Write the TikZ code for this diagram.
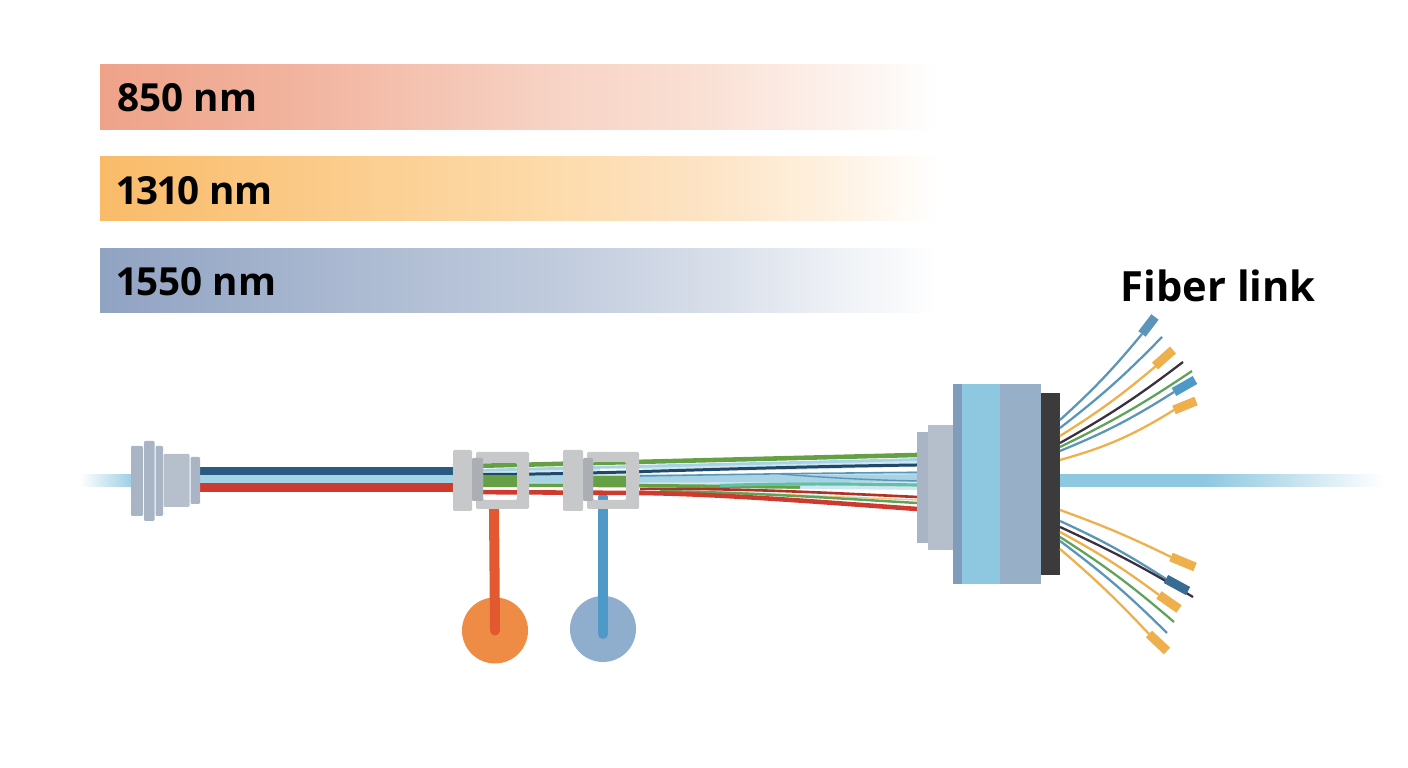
\documentclass[tikz,border=0pt]{standalone}
\usepackage{fontspec}
\setmainfont[Numbers=Proportional]{Open Sans}
\usepackage{tikz}

\definecolor{barred}{HTML}{EEA389}
\definecolor{barredb}{HTML}{F2B5A0}
\definecolor{barredc}{HTML}{F7D3C5}
\definecolor{barredd}{HTML}{FADFD3}
\definecolor{barrede}{HTML}{FCF0EA}
\definecolor{baramber}{HTML}{F9BB68}
\definecolor{baramberb}{HTML}{FBCA88}
\definecolor{baramberc}{HTML}{FDDBAB}
\definecolor{baramberd}{HTML}{FDE3C3}
\definecolor{barambere}{HTML}{FEF1E0}
\definecolor{barblue}{HTML}{90A3C2}
\definecolor{barblueb}{HTML}{A7B6CF}
\definecolor{barbluec}{HTML}{C0CBDD}
\definecolor{barblued}{HTML}{D5DCE8}
\definecolor{barbluee}{HTML}{EDF0F5}
\definecolor{beam}{HTML}{8EC7E0}
\definecolor{steel}{HTML}{A9B5C5}
\definecolor{steellight}{HTML}{B5C0CC}
\definecolor{clipgrey}{HTML}{C6C8CA}
\definecolor{clipdark}{HTML}{ABAFB3}
\definecolor{navy}{HTML}{2A5A82}
\definecolor{paleblue}{HTML}{A6D3E6}
\definecolor{wirered}{HTML}{CF3A2E}
\definecolor{wiregreen}{HTML}{65A044}
\definecolor{teal}{HTML}{62BFA8}
\definecolor{fibblue}{HTML}{5B96B8}
\definecolor{fibamber}{HTML}{EDB04C}
\definecolor{fibgreen}{HTML}{5FA35A}
\definecolor{fibdark}{HTML}{3A3040}
\definecolor{portorange}{HTML}{EE8C46}
\definecolor{portblue}{HTML}{8FADCD}
\definecolor{stemred}{HTML}{E2582F}
\definecolor{stemblue}{HTML}{4F99C9}
\definecolor{ringedge}{HTML}{7F9DBB}
\definecolor{ringgrey}{HTML}{98AFC8}

\pgfdeclarehorizontalshading{fadered}{100bp}{color(0bp)=(barred); color(25bp)=(barred);
    color(37.5bp)=(barredb); color(52bp)=(barredc); color(60.5bp)=(barredd); color(68.5bp)=(barrede); color(75bp)=(white); color(100bp)=(white)}
\pgfdeclarehorizontalshading{fadeamber}{100bp}{color(0bp)=(baramber); color(25bp)=(baramber);
    color(37.5bp)=(baramberb); color(52bp)=(baramberc); color(60.5bp)=(baramberd); color(68.5bp)=(barambere); color(75bp)=(white); color(100bp)=(white)}
\pgfdeclarehorizontalshading{fadeblue}{100bp}{color(0bp)=(barblue); color(25bp)=(barblue);
    color(37.5bp)=(barblueb); color(52bp)=(barbluec); color(60.5bp)=(barblued); color(68.5bp)=(barbluee); color(75bp)=(white); color(100bp)=(white)}
\pgfdeclarehorizontalshading{fadebeam}{100bp}{color(0bp)=(beam); color(47bp)=(beam);
    color(60bp)=(beam!55); color(72bp)=(beam!10); color(75bp)=(white); color(100bp)=(white)}

\tikzset{
    barlabel/.style={anchor=base west, inner sep=0pt, font=\fontsize{11}{14}\selectfont\bfseries},
    titlelabel/.style={anchor=base west, inner sep=0pt, font=\fontsize{11.85}{14}\selectfont\bfseries},
    steelpart/.style={fill=steel, rounded corners=0.3pt},
    clipblock/.style={fill=clipgrey, rounded corners=0.4pt},
    clipinner/.style={fill=clipdark, rounded corners=0.3pt},
    fiber/.style={line width=0.65pt},
    tipend/.style={line width=2.6pt},
    port/.style={circle, minimum size=0.66cm, inner sep=0pt},
    stem/.style={line width=2.85pt, line cap=round},
}

\begin{document}
\begin{tikzpicture}[x=0.01cm,y=-0.01cm]
    \useasboundingbox (0,0) rectangle (1408,768);

    % draws wavelength bars
    \shade[shading=fadered] (100,65) rectangle (940,130);
    \shade[shading=fadeamber] (100,157) rectangle (940,221);
    \shade[shading=fadeblue] (100,249) rectangle (940,313);
    \node[barlabel] (nm850) at (117,112) {850 nm};
    \node[barlabel] (nm1310) at (117,205) {1310 nm};
    \node[barlabel] (nm1550) at (117,296) {1550 nm};
    \node[titlelabel] (fiberlink) at (1120,302) {Fiber link};

    % draws light beams
    \shade[left color=white, right color=beam!85] (80,475) rectangle (131,487);
    \shade[shading=fadebeam] (1060,475) rectangle (1385,487);

    % draws wires up to the first clip
    \fill[navy] (200,467.5) rectangle (455,475);
    \fill[paleblue] (200,475) rectangle (455,483.5);
    \fill[wirered] (200,483.5) rectangle (455,492);

    % draws left connector
    \fill[steelpart] (131,446) rectangle (143,516);
    \fill[steelpart] (155.5,446) rectangle (163,516);
    \fill[steelpart] (144,441) rectangle (154.5,521);
    \fill[steelpart, fill=steellight] (163.5,454) rectangle (189.5,507);
    \fill[steelpart] (190.5,457) rectangle (200,504);

    % draws tap ports
    \node[port, fill=portorange] (redport) at (495,630.5) {};
    \node[port, fill=portblue] (blueport) at (603,629) {};
    \draw[stem, draw=stemred] (494,509) -- (redport.center);
    \draw[stem, draw=stemblue] (603,497) -- ([yshift=-0.05cm]blueport.center);

    % draws bundle of wires
    \fill[paleblue!55] (453,470) -- (640,467) -- (917,460) -- (917,491) -- (640,490) -- (453,488) -- cycle;
    \draw[paleblue, line width=2pt] (453,479) -- (640,479) -- (917,478);
    \draw[white, line width=1.2pt] (600,470) .. controls (760,476) and (830,470) .. (917,469);
    \draw[white, line width=0.8pt] (453,487) -- (640,488.5);
    \draw[wiregreen, line width=1.3pt] (453,466.5) -- (917,455);
    \draw[paleblue, line width=0.8pt] (453,471) -- (917,459.5);
    \draw[navy!80!black, line width=0.85pt] (453,474.5) .. controls (600,475) and (700,468) .. (917,465);
    \draw[fibblue, line width=0.45pt] (640,476) .. controls (760,474) and (830,473) .. (917,472.5);
    \draw[fibblue, line width=0.4pt] (780,474) .. controls (830,478) and (870,480) .. (917,481);
    \draw[wiregreen, line width=1pt] (453,485.5) .. controls (600,485) and (700,486) .. (800,487.5);
    \draw[teal, line width=0.9pt] (720,485.5) .. controls (800,483) and (850,484) .. (917,485);
    \draw[white, line width=0.6pt] (640,488.5) -- (917,491);
    \draw[wirered!85!black, line width=0.75pt] (640,489) .. controls (740,488) and (830,493) .. (917,497);
    \draw[fibamber!70, line width=0.4pt] (700,491) -- (917,500);
    \draw[fibgreen, line width=0.7pt] (660,491) .. controls (760,493) and (830,498) .. (917,503);
    \draw[wirered, line width=1.3pt] (453,492) -- (640,493) .. controls (720,494) and (820,502) .. (917,509);

    % thick green part seen inside the clips
    \fill[wiregreen] (483,475) rectangle (517,485);
    \fill[wiregreen] (593,476) rectangle (626,484);

    % draws clips
    \fill[clipblock] (453,450) rectangle (472,511);
    \fill[clipblock, even odd rule] (476,452) rectangle (529,509) (483,463) rectangle (517,500);
    \fill[clipinner] (472,458) rectangle (483,501);
    \fill[clipblock] (563,450) rectangle (583,511);
    \fill[clipblock, even odd rule] (587,452) rectangle (639,509) (593,462) rectangle (626,500);
    \fill[clipinner] (583,458) rectangle (593,501);

    % draws big connector
    \fill[steel] (917,432) rectangle (928,543);
    \fill[steellight!90!steel] (928,425) rectangle (953,550);
    \fill[ringedge] (953,384) rectangle (961.5,584);
    \fill[beam] (961.5,384) rectangle (1000,584);
    \fill[ringgrey] (1000,384) rectangle (1041,584);
    \fill[black!77] (1041,393) rectangle (1060,575);

    % draws upper fibers
    \draw[fiber, fibblue] (1060,420) to[bend right=4] (1142,334);
    \draw[fiber, fibblue] (1060,428) to[bend right=4] (1162,337);
    \draw[fiber, fibamber] (1060,436) to[bend right=4] (1156,366);
    \draw[fiber, fibdark] (1060,443) to[bend right=4] (1183,362);
    \draw[fiber, fibgreen] (1060,447) to[bend right=4] (1192,371);
    \draw[fiber, fibblue] (1060,451) to[bend right=5] (1174,392);
    \draw[fiber, fibamber] (1060,460) to[bend right=8] (1174,410);
    \draw[tipend, fibblue] (1142,334) -- (1155,317);
    \draw[tipend, fibamber] (1155,366) -- (1173,350);
    \draw[tipend, stemblue] (1174,392) -- (1195,380);
    \draw[tipend, fibamber] (1174,410) -- (1196,401);

    % draws lower fibers
    \draw[fiber, fibamber] (1060,510) to[bend left=3] (1171,557);
    \draw[fiber, fibblue] (1060,521) to[bend left=4] (1166,579);
    \draw[fiber, fibdark] (1060,527) to[bend left=3] (1193,597);
    \draw[fiber, fibamber] (1060,532) to[bend left=4] (1159,595);
    \draw[fiber, fibgreen] (1060,537) to[bend left=4] (1174,622);
    \draw[fiber, fibblue] (1060,541) to[bend left=4] (1167,633);
    \draw[fiber, fibamber] (1060,549) to[bend left=3] (1149,634);
    \draw[tipend, fibamber] (1171,557) -- (1195,567);
    \draw[tipend, navy!70!fibblue] (1166,579) -- (1188,591);
    \draw[tipend, fibamber] (1159,595) -- (1179,609);
    \draw[tipend, fibamber] (1149,634) -- (1167,651);
\end{tikzpicture}
\end{document}
